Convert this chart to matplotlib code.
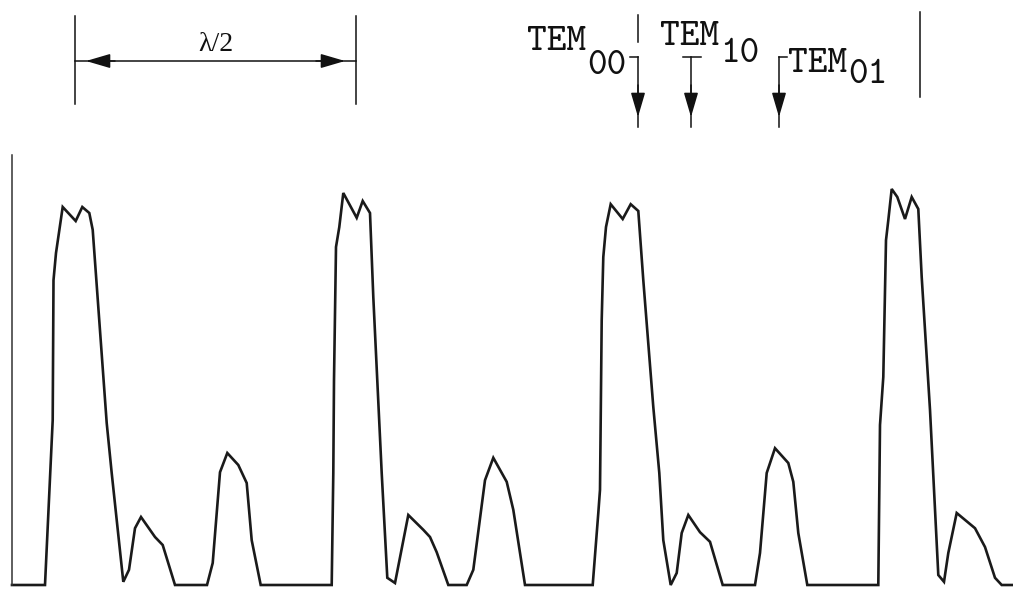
import matplotlib
matplotlib.use('Agg')
import matplotlib.pyplot as plt

# Scanning Fabry-Perot trace: mirror position (arb. units) vs transmitted intensity (arb. units)
position = [12, 45, 52.7, 53.5, 56, 62.7, 75.7, 82.3, 89.3, 92.7, 106.7, 111.7, 123.3, 129, 135, 141,
            155, 162.7, 175, 207, 212.7, 220, 227.3, 238.3, 246.7, 251.7, 260.7, 331.7, 333.3, 334,
            336, 339.3, 343.3, 356.7, 362.7, 370, 373.3, 381.7, 387.3, 395, 408.3, 423.3, 430, 436.7,
            448.3, 466.7, 473.3, 485, 493.3, 506.7, 513.3, 525, 592.7, 598.3, 600, 601.7, 603.3, 606,
            610.7, 622.7, 630.7, 638.3, 643.3, 653.3, 659.3, 663.3, 670.7, 676.7, 681.7, 688.3, 700,
            710, 722.7, 755, 760, 766.7, 775, 788.3, 793.3, 798.3, 807.3, 878.3, 880, 883.3, 886,
            888.3, 891.7, 897.3, 905, 911.7, 918.3, 921.7, 930, 938.3, 944, 948.3, 956.7, 975, 985,
            995, 1001.7, 1013]
intensity = [0, 0, 41.2, 76.2, 83, 94.5, 91, 94.5, 93, 88.8, 40.5, 28, 0.8, 3.8, 14.2, 17,
             12, 10, 0, 0, 5.5, 28.2, 33, 30, 25.5, 11.2, 0, 0, 28, 51.2,
             84.5, 89.5, 98, 91.8, 96, 93, 72, 28, 1.8, 0.5, 17.5, 13.8, 12, 8.2,
             0, 0, 3.8, 26.2, 31.8, 25.8, 18.8, 0, 0, 18, 23.8, 66.2, 82, 89.5,
             95.2, 91.5, 95.2, 93.5, 76.2, 44.5, 28, 11.2, 0, 3, 13, 17.5, 13.2,
             10.8, 0, 0, 8, 28, 34.2, 30.5, 25.8, 13, 0, 0, 40, 52, 86.2,
             91.2, 99, 97, 91.5, 97, 94, 77, 43.8, 2.5, 0.8, 8, 18, 14.2, 9.5,
             1.8, 0, 0]

# free spectral range markers (lambda/2 apart) and mode labels
fsr_left = [75, 356]
fsr_right = [638, 920]
mode_names = ['TEM', 'TEM', 'TEM']
mode_subs = ['00', '10', '01']
mode_pos = [638, 691, 779]

W, H = 1013, 590
fig = plt.figure(figsize=(W / 100, H / 100), dpi=100)

ax = fig.add_axes([12 / W, 5 / H, (W - 12) / W, 430 / H])
ax.plot(position, intensity, color='#1a1a1a', lw=1.9, clip_on=False, solid_joinstyle='miter')
ax.set_xlim(12, W)
ax.set_ylim(0, 107.5)
for s in ['top', 'right', 'bottom']:
    ax.spines[s].set_visible(False)
ax.spines['left'].set_color('#333333')
ax.spines['left'].set_linewidth(1.1)
ax.set_xticks([])
ax.set_yticks([])

# overlay in pixel coordinates for the annotations above the trace
ov = fig.add_axes([0, 0, 1, 1], zorder=5)
ov.set_xlim(0, W)
ov.set_ylim(H, 0)
ov.axis('off')
ov.patch.set_alpha(0)

lc = '#111111'
head = dict(arrowstyle='-|>,head_length=0.75,head_width=0.22', color=lc, lw=1.1,
            mutation_scale=20, shrinkA=0, shrinkB=0)

# lambda/2 dimension
for x in fsr_left:
    ov.plot([x, x], [16, 104], color=lc, lw=1.1)
ov.plot(fsr_left, [61, 61], color=lc, lw=1.1)
ov.annotate('', xy=(fsr_left[0] + 11, 61), xytext=(fsr_left[0] + 40, 61), arrowprops=head)
ov.annotate('', xy=(fsr_left[1] - 11, 61), xytext=(fsr_left[1] - 40, 61), arrowprops=head)
ov.text(sum(fsr_left) / 2, 51, 'λ/2', ha='center', va='baseline', fontsize=20,
        family=['Liberation Serif', 'DejaVu Serif'], color=lc)

# second period markers
ov.plot([fsr_right[0]] * 2, [15, 42], color=lc, lw=1.1)
ov.plot([fsr_right[1]] * 2, [12, 97], color=lc, lw=1.1)

# mode arrows
ticks = [(-8, 0), (-8, 10), (0, 8)]
text_at = [(527, 50, 74), (660, 45, 62), (788, 72, 83)]
for x, (t0, t1), name, sub, (tx, ty, sy) in zip(mode_pos, ticks, mode_names, mode_subs, text_at):
    ov.plot([x + t0, x + t1], [57, 57], color=lc, lw=1.1)
    ov.plot([x, x], [57, 127], color=lc, lw=1.1)
    ov.annotate('', xy=(x, 117), xytext=(x, 85), arrowprops=head)
    t = ov.text(tx, ty, name, ha='left', va='baseline', fontsize=27, family='cmtt10', color=lc)
    ov.annotate(sub, xy=(1.0, sy), xycoords=(t, 'data'), xytext=(1, 0), textcoords='offset pixels',
                ha='left', va='baseline', fontsize=27, family='cmtt10', color=lc)

fig.savefig('out.png', dpi=100, facecolor='white')
